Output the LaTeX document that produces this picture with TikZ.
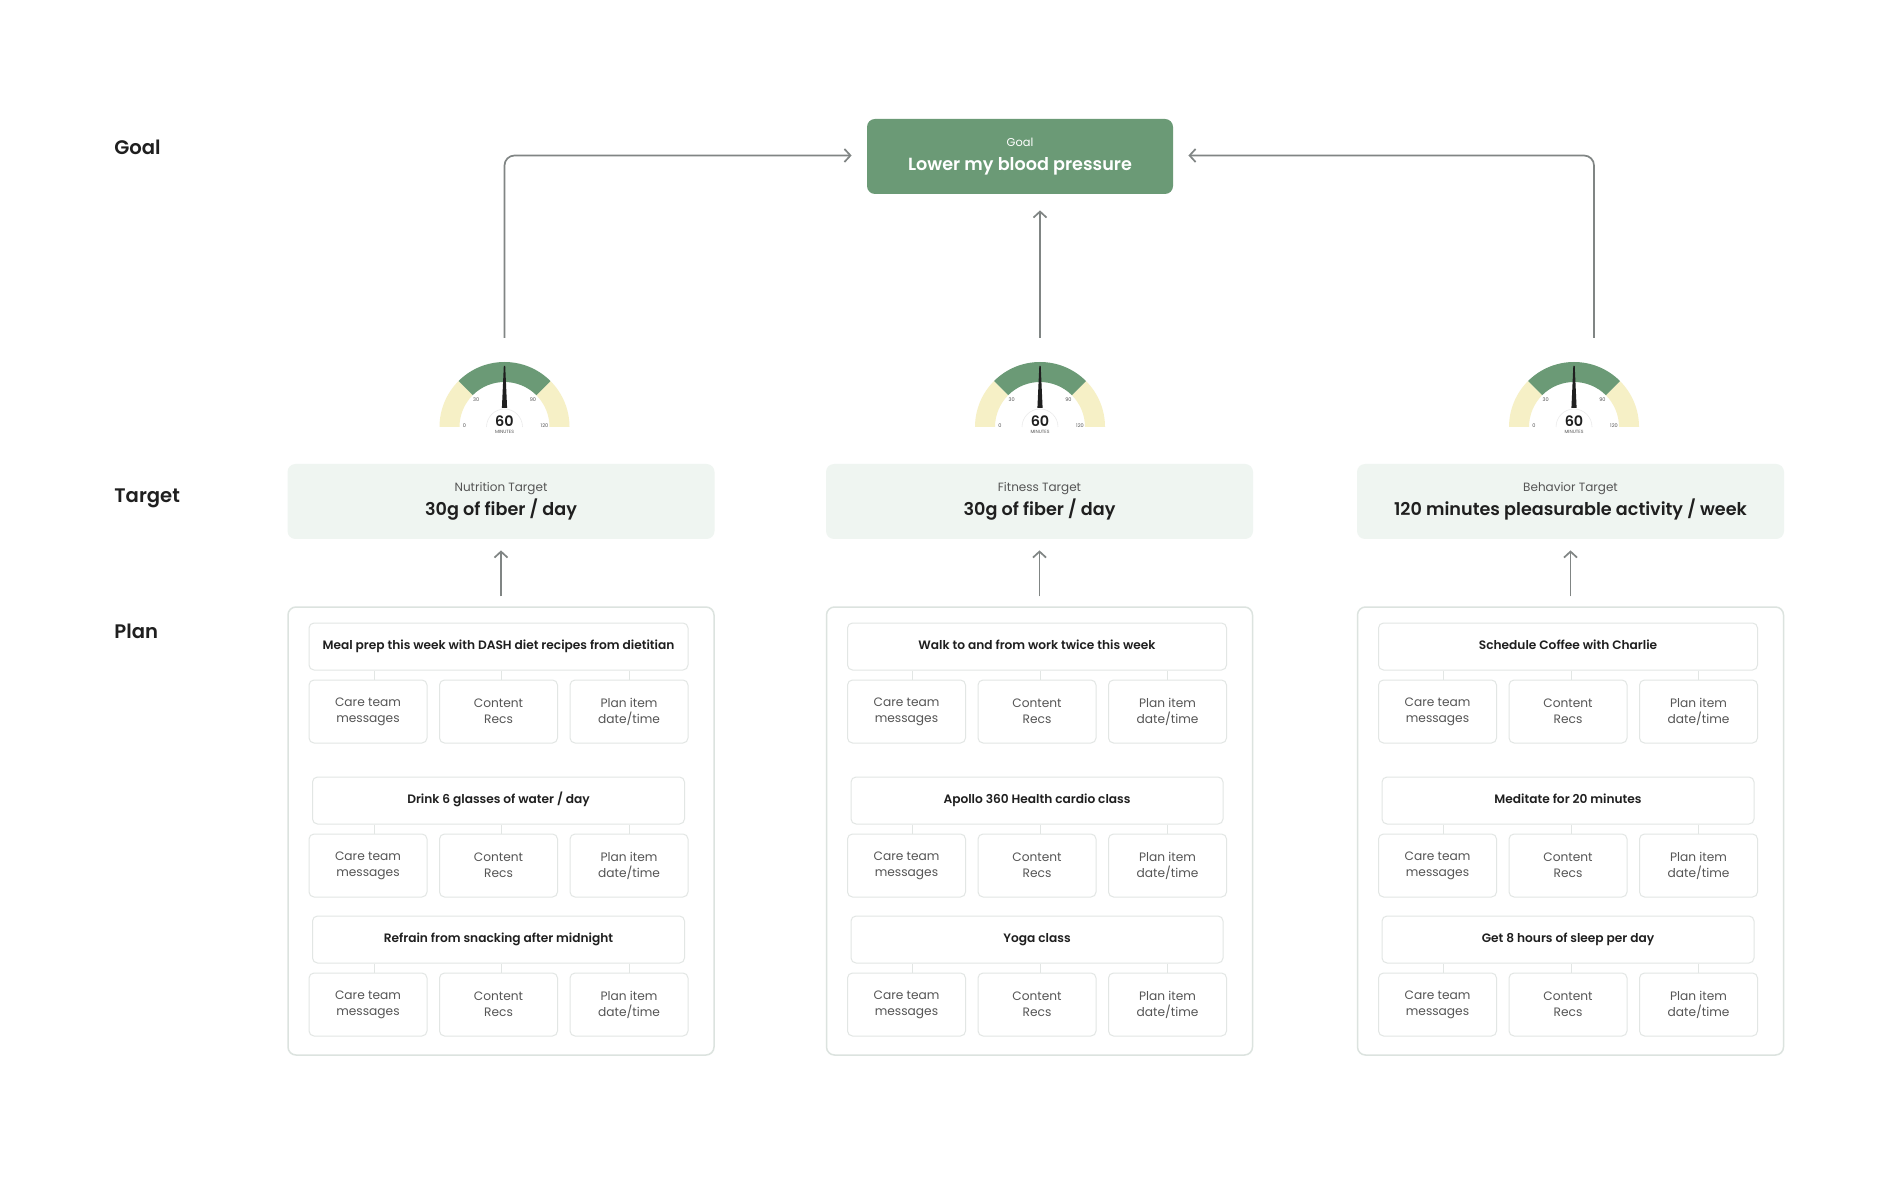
\documentclass[tikz,border=0pt]{standalone}
\usepackage{fontspec}
\setmainfont{Poppins}[BoldFont={Poppins SemiBold}]
\usetikzlibrary{arrows.meta}
\definecolor{goalgreen}{HTML}{6B9A76}
\definecolor{gaugeyellow}{HTML}{F6F0C6}
\definecolor{targetbg}{HTML}{EFF5F1}
\definecolor{planline}{HTML}{DCE3DF}
\definecolor{boxline}{HTML}{E2E6E4}
\definecolor{arrowgray}{HTML}{808584}
\definecolor{ink}{HTML}{1F1F1F}
\definecolor{subgray}{HTML}{555555}
\tikzset{
  lane/.style={anchor=base west,inner sep=0pt,text=ink,font=\fontsize{9.8}{11}\selectfont\bfseries},
  goalbox/.style={fill=goalgreen,rounded corners=4pt,minimum width=153pt,minimum height=37.5pt,
    text=white,align=center,inner sep=0pt,font=\fontsize{8.8}{12}\selectfont\bfseries},
  targetbox/.style={fill=targetbg,rounded corners=4pt,minimum width=213.5pt,minimum height=37.5pt,
    text=ink,align=center,inner sep=0pt,font=\fontsize{8.8}{12}\selectfont\bfseries},
  planbox/.style={draw=planline,line width=0.75pt,fill=white,rounded corners=4pt,
    minimum width=213pt,minimum height=224pt},
  itembox/.style={draw=boxline,line width=0.5pt,rounded corners=2.5pt,minimum height=23.5pt,
    inner sep=0pt,text height=4.8pt,text depth=1.4pt,text=ink,font=\fontsize{6.1}{8}\selectfont\bfseries},
  subbox/.style={draw=boxline,line width=0.5pt,rounded corners=2.5pt,minimum width=59pt,
    minimum height=31.5pt,inner sep=0pt,align=center,text=subgray,font=\fontsize{6.1}{7.9}\selectfont},
  tick/.style={draw=boxline,line width=0.5pt},
  flow/.style={draw=arrowgray,line width=0.85pt,-{Straight Barb[length=3pt,width=6.5pt]},rounded corners=5pt},
  dial/.style={text=subgray,font=\fontsize{2.5}{3}\selectfont,inner sep=0pt}
}
% one gauge, #1 = name of its top, #2 = centre x
\newcommand{\gauge}[2]{%
  \begin{scope}[shift={(#2,427)}]
    \fill[gaugeyellow] (0:32.5pt) arc[start angle=0,end angle=45,radius=32.5pt]
      -- (45:22.5pt) arc[start angle=45,end angle=0,radius=22.5pt] -- cycle;
    \fill[gaugeyellow] (135:32.5pt) arc[start angle=135,end angle=180,radius=32.5pt]
      -- (180:22.5pt) arc[start angle=180,end angle=135,radius=22.5pt] -- cycle;
    \fill[goalgreen] (45:32.5pt) arc[start angle=45,end angle=135,radius=32.5pt]
      -- (135:22.5pt) arc[start angle=135,end angle=45,radius=22.5pt] -- cycle;
    \fill[ink] (-1.3pt,9.5pt) -- (1.3pt,9.5pt) -- (0.35pt,30.5pt) -- (-0.35pt,30.5pt) -- cycle;
    \fill[white] (-9pt,0pt) arc[start angle=180,end angle=0,radius=9pt] -- cycle;
    \draw[black!8,line width=0.3pt] (-9pt,0pt) arc[start angle=180,end angle=0,radius=9pt];
    \node[anchor=base,inner sep=0pt,text=ink,font=\fontsize{7.2}{8}\selectfont\bfseries] at (0pt,0pt) {60};
    \node[anchor=base,dial,font=\fontsize{2.3}{3}\selectfont] at (0pt,-3.5pt) {MINUTES};
    \node[dial] at (-20pt,0.5pt) {0};
    \node[dial] at (-14.2pt,13.5pt) {30};
    \node[dial] at (14.2pt,13.5pt) {90};
    \node[dial] at (20pt,0.5pt) {120};
    \coordinate (#1) at (0pt,44.5pt);
  \end{scope}}
% one plan item with its three boxes, #2 = left edge of the plan box
\newcommand{\planitem}[5]{%
  \node[itembox,minimum width=#4] (#1) at (#2+210.5,#3) {#5};
  \node[subbox] (#1a) at (#2+80,#3+65) {Care team\\messages};
  \node[subbox] (#1b) at (#2+210.5,#3+65) {Content\\Recs};
  \node[subbox] (#1c) at (#2+341,#3+65) {Plan item\\date/time};
  \draw[tick] ([xshift=3pt]#1a.north) -- ([xshift=3pt]#1a.north |- #1.south);
  \draw[tick] ([xshift=1.5pt]#1b.north) -- ([xshift=1.5pt]#1b.north |- #1.south);
  \draw[tick] (#1c.north) -- (#1c.north |- #1.south);}
\begin{document}
\begin{tikzpicture}[x=0.5pt,y=-0.5pt]
  \useasboundingbox[fill=white] (0,0) rectangle (1882,1186);
  % lanes
  \node[lane] (lgoal) at (114,155) {Goal};
  \node[lane] (ltarget) at (114,503) {Target};
  \node[lane] (lplan) at (114,638) {Plan};
  % goal
  \node[goalbox] (goal) at (1020,156.5)
    {{\fontsize{5.7}{7}\selectfont\mdseries Goal}\\Lower my blood pressure};
  % gauges
  \gauge{g1}{504.5}
  \gauge{g2}{1040}
  \gauge{g3}{1574}
  \draw[flow] (g1) |- ([xshift=-7.5pt,yshift=0.5pt]goal.west);
  \draw[flow] (g2) -- ([yshift=-8pt]g2 |- goal.south);
  \draw[flow] ([xshift=10pt]g3) |- ([xshift=7.5pt,yshift=0.5pt]goal.east);
  % targets
  \node[targetbox] (t1) at (501,501.5)
    {{\fontsize{6}{7}\selectfont\mdseries\color{subgray}Nutrition Target}\\30g of fiber / day};
  \node[targetbox] (t2) at (1039.5,501.5)
    {{\fontsize{6}{7}\selectfont\mdseries\color{subgray}Fitness Target}\\30g of fiber / day};
  \node[targetbox] (t3) at (1570.5,501.5)
    {{\fontsize{6}{7}\selectfont\mdseries\color{subgray}Behavior Target}\\120 minutes pleasurable activity / week};
  % plans
  \node[planbox] (p1) at (501,831) {};
  \node[planbox] (p2) at (1039.5,831) {};
  \node[planbox] (p3) at (1570.5,831) {};
  \draw[flow] ([yshift=5pt]p1.north) -- ([yshift=-5.5pt]t1.south);
  \draw[flow] ([yshift=5pt]p2.north) -- ([yshift=-5.5pt]t2.south);
  \draw[flow] ([yshift=5pt]p3.north) -- ([yshift=-5.5pt]t3.south);
  \planitem{p1i1}{288}{646.5}{189.5pt}{Meal prep this week with DASH diet recipes from dietitian}
  \planitem{p1i2}{288}{800.5}{186pt}{Drink 6 glasses of water / day}
  \planitem{p1i3}{288}{939.5}{186pt}{Refrain from snacking after midnight}
  \planitem{p2i1}{826.5}{646.5}{189.5pt}{Walk to and from work twice this week}
  \planitem{p2i2}{826.5}{800.5}{186pt}{Apollo 360 Health cardio class}
  \planitem{p2i3}{826.5}{939.5}{186pt}{Yoga class}
  \planitem{p3i1}{1357.5}{646.5}{189.5pt}{Schedule Coffee with Charlie}
  \planitem{p3i2}{1357.5}{800.5}{186pt}{Meditate for 20 minutes}
  \planitem{p3i3}{1357.5}{939.5}{186pt}{Get 8 hours of sleep per day}
\end{tikzpicture}
\end{document}
